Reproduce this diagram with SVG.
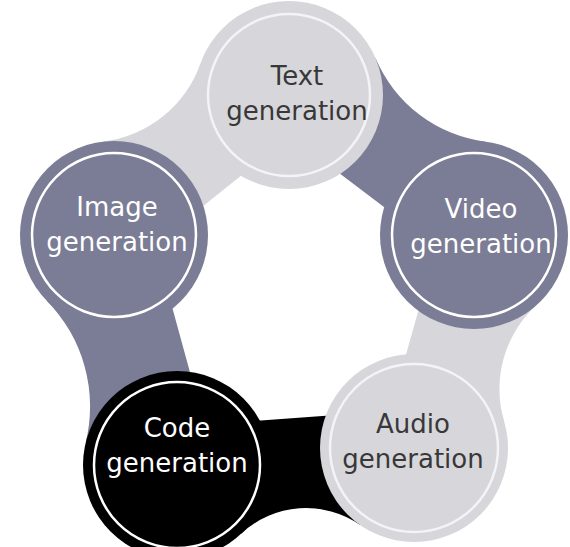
<svg xmlns="http://www.w3.org/2000/svg" width="570" height="547" viewBox="0 0 570 547">
<style>
.light{fill:#d6d6db}
.slate{fill:#7b7c95}
.black{fill:#000000}
.ring{fill:none;stroke:#ffffff;stroke-width:2.5}
.ringl{fill:none;stroke:#f4f4f6;stroke-width:2.5}
.lbl{font-family:"DejaVu Sans","Open Sans",sans-serif;font-size:26px;text-anchor:middle}
.dark{fill:#383838}
.white{fill:#ffffff}
</style>
<rect width="570" height="547" fill="#ffffff"/>
<g id="connectors">
<path class="light" d="M 134.6 260.8 L 102.9 141.7 A 118.2 118.2 0 0 0 200.4 63.7 L 309.6 120.8 Z"/>
<path class="slate" d="M 269.7 120.5 L 375.6 58.3 A 138.5 138.5 0 0 0 485.8 141.7 L 454.7 260.5 Z"/>
<path class="light" d="M 442.2 226.1 L 536.9 304.8 A 113.3 113.3 0 0 0 504.1 421.2 L 382.2 439.1 Z"/>
<path class="black" d="M 411.2 409.6 L 360.3 525.1 A 95 95 0 0 0 241.2 533.7 L 174.2 426.6 Z"/>
<path class="slate" d="M 212.7 455.2 L 85.7 442.5 A 150.7 150.7 0 0 0 46.9 300.9 L 149.7 225.2 Z"/>
</g>
<g id="text-generation">
<circle class="light" cx="289" cy="95" r="94"/>
<circle class="ringl" cx="289" cy="95" r="81"/>
<text class="lbl dark" x="297" y="85">Text</text>
<text class="lbl dark" x="297" y="120">generation</text>
</g>
<g id="video-generation">
<circle class="slate" cx="474" cy="235" r="94"/>
<circle class="ring" cx="474" cy="235" r="82"/>
<text class="lbl white" x="481" y="218">Video</text>
<text class="lbl white" x="481" y="253">generation</text>
</g>
<g id="audio-generation">
<circle class="light" cx="414" cy="448" r="94"/>
<circle class="ringl" cx="414" cy="448" r="84"/>
<text class="lbl dark" x="413" y="433">Audio</text>
<text class="lbl dark" x="413" y="468">generation</text>
</g>
<g id="code-generation">
<circle class="black" cx="177" cy="465" r="94"/>
<circle class="ring" cx="177" cy="465" r="83"/>
<text class="lbl white" x="177" y="437">Code</text>
<text class="lbl white" x="177" y="472">generation</text>
</g>
<g id="image-generation">
<circle class="slate" cx="114" cy="235" r="94"/>
<circle class="ring" cx="114" cy="235" r="82"/>
<text class="lbl white" x="117" y="216">Image</text>
<text class="lbl white" x="117" y="251">generation</text>
</g>
</svg>
